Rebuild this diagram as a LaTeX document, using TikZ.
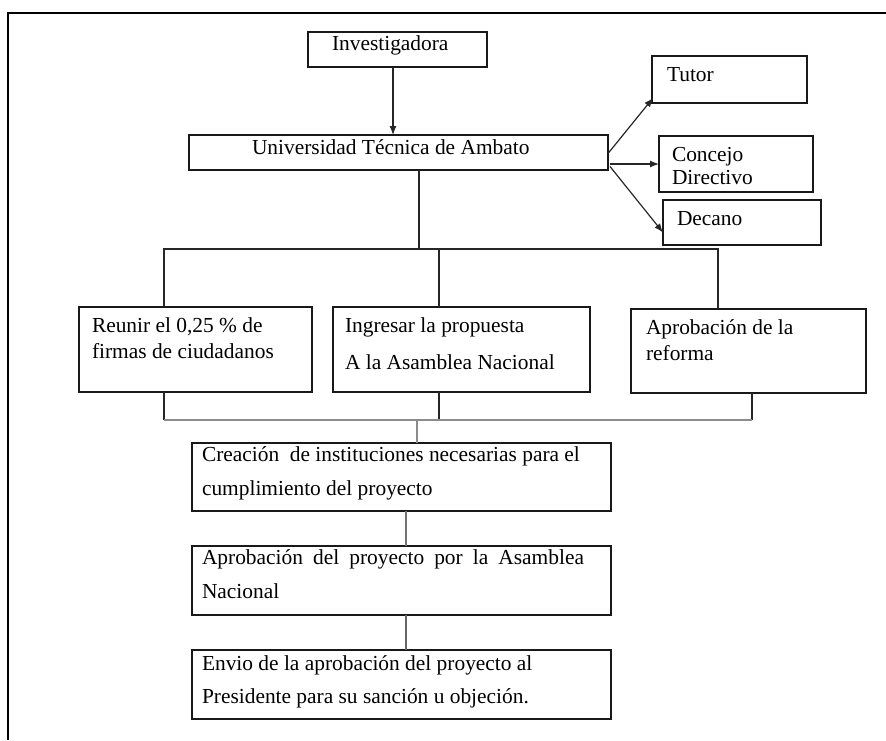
\documentclass[tikz,border=0pt]{standalone}
\usepackage{fontspec}
\setmainfont{Liberation Serif}
\usetikzlibrary{arrows.meta}
\newcommand\boxtxt[6]{\parbox[t][#2][t]{#1}{\fontsize{21.4}{#3}\selectfont\raggedright\leftskip=#5\relax\vspace*{#4}\rule{0pt}{15pt}#6}}
\tikzset{
  box/.style={draw=black!90, line width=1.3pt, inner sep=0pt, outer sep=0pt, anchor=north west},
  conn/.style={draw=black!85, line width=1.2pt},
  gconn/.style={draw=black!45, line width=1.4pt},
  arr/.style={conn, -{Latex[length=9pt,width=7pt]}},
  frame/.style={draw=black, line width=1.9pt}
}
\begin{document}
\begin{tikzpicture}[x=1pt,y=-1pt]
\useasboundingbox (0,0) rectangle (886,740);
\draw[frame] (8,740) -- (8,13) -- (886,13);

\node[box] (inv) at (308,32) {\boxtxt{179pt}{35pt}{25pt}{3pt}{24pt}{Investigadora}};
\node[box] (uta) at (189,135) {\boxtxt{419pt}{35pt}{25pt}{4pt}{63pt}{Universidad Técnica de Ambato}};
\node[box] (tutor) at (652,56) {\boxtxt{155pt}{47pt}{25pt}{10pt}{15pt}{Tutor}};
\node[box] (concejo) at (659,136) {\boxtxt{154pt}{56pt}{23pt}{10pt}{13pt}{Concejo\\Directivo}};
\node[box] (decano) at (663,200) {\boxtxt{158pt}{45pt}{25pt}{10pt}{14pt}{Decano}};

\node[box] (reunir) at (79,307) {\boxtxt{233pt}{85pt}{26pt}{10pt}{13pt}{Reunir el 0,25 \% de\\firmas de ciudadanos}};
\node[box] (ingresar) at (333,307) {\boxtxt{257pt}{85pt}{37pt}{10pt}{12pt}{Ingresar la propuesta\\A la Asamblea Nacional}};
\node[box] (reforma) at (631,309) {\boxtxt{235pt}{84pt}{26pt}{10pt}{15pt}{Aprobación de la\\reforma}};

\node[box] (creacion) at (192,443) {\boxtxt{419pt}{68pt}{34pt}{3pt}{10pt}{Creación~ de instituciones necesarias para el\\cumplimiento del proyecto}};
\node[box] (aprob) at (192,546) {\boxtxt{419pt}{69pt}{34pt}{3pt}{10pt}{\makebox[382pt][s]{Aprobación del proyecto por la Asamblea}\\Nacional}};
\node[box] (envio) at (192,650) {\boxtxt{419pt}{69pt}{33pt}{5pt}{10pt}{Envio de la aprobación del proyecto al\\Presidente para su sanción u objeción.}};

% investigadora -> uta
\draw[arr] ([xshift=-4.5pt]inv.south) -- ([xshift=-4.5pt]inv.south |- uta.north);

% uta -> right boxes
\draw[arr] ([yshift=-1pt]uta.east) -- ([xshift=1pt,yshift=5pt]tutor.south west);
\draw[arr] ([xshift=2pt]uta.east |- concejo.west) -- (concejo.west);
\draw[arr] ([xshift=2pt,yshift=-14pt]uta.east) -- ([yshift=-10pt]decano.west);

% top bus
\coordinate (j0) at (419,249);
\coordinate (j1) at (164,249);
\coordinate (j2) at (439,249);
\coordinate (j3) at (718,249);
\draw[conn] (j0 |- uta.south) -- (j0);
\draw[conn] (j1 |- reunir.north) -- (j1) -- (j3) -- (j3 |- reforma.north);
\draw[conn] (j2) -- (j2 |- ingresar.north);

% bottom bus
\coordinate (k1) at (164,420);
\coordinate (k2) at (439,420);
\coordinate (k3) at (752,420);
\coordinate (k0) at (417,420);
\draw[conn] (k1 |- reunir.south) -- (k1);
\draw[conn] (k2 |- ingresar.south) -- (k2);
\draw[conn] (k3 |- reforma.south) -- (k3);
\draw[gconn] (k1) -- (k3);
\draw[gconn] (k0) -- (k0 |- creacion.north);

% lower chain
\coordinate (m0) at (406,0);
\draw[gconn, draw=black!55] (m0 |- creacion.south) -- (m0 |- aprob.north);
\draw[gconn, draw=black!60] (m0 |- aprob.south) -- (m0 |- envio.north);
\end{tikzpicture}
\end{document}
